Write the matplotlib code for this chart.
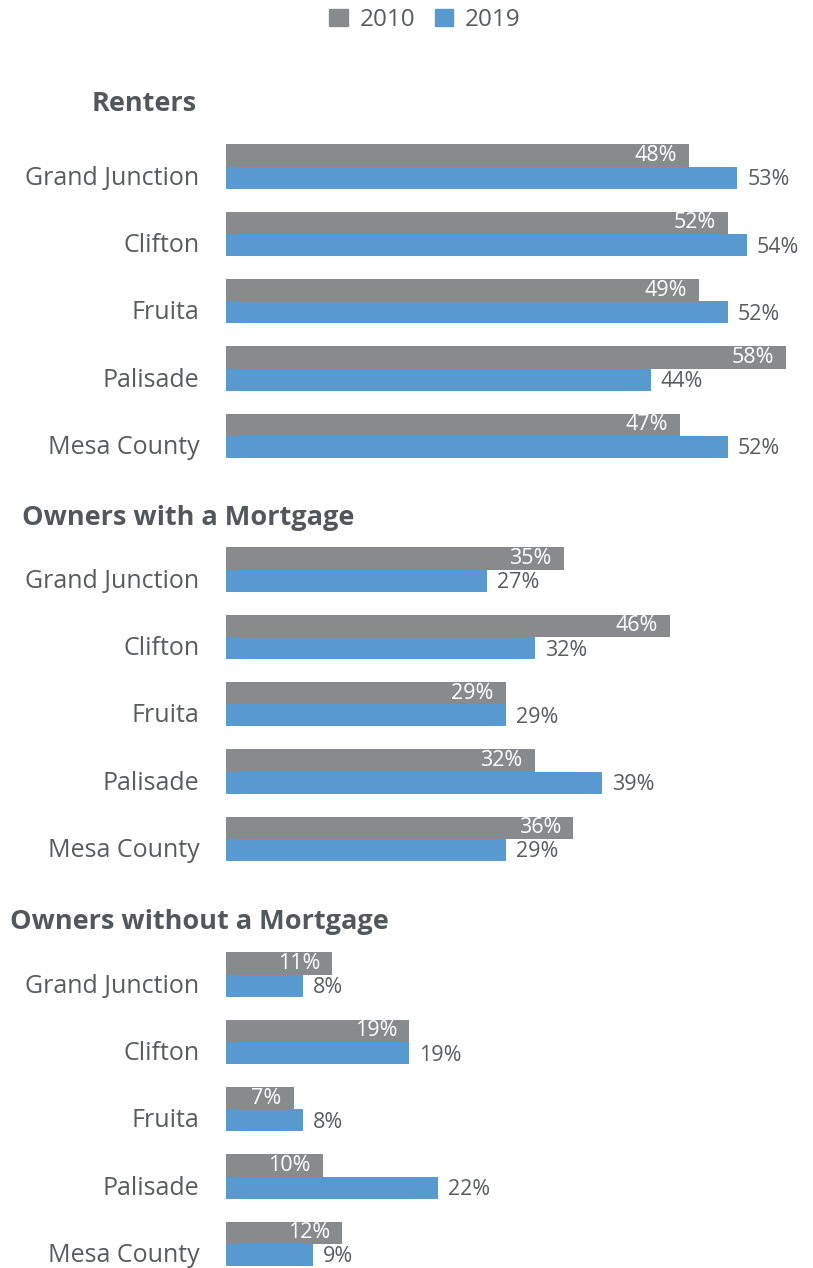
import matplotlib
matplotlib.use("Agg")
from matplotlib import pyplot as plt
from matplotlib.patches import Patch
import numpy as np

plt.rcParams['font.family'] = ['Open Sans', 'DejaVu Sans']

places = ["Grand Junction", "Clifton", "Fruita", "Palisade", "Mesa County"]
sections = ["Renters", "Owners with a Mortgage", "Owners without a Mortgage"]
vals_2010 = [
    [48, 52, 49, 58, 47],
    [35, 46, 29, 32, 36],
    [11, 19, 7, 10, 12],
]
vals_2019 = [
    [53, 54, 52, 44, 52],
    [27, 32, 29, 39, 29],
    [8, 19, 8, 22, 9],
]

GRAY = "#888a8c"
BLUE = "#5899d0"
TXT = "#595b5d"

W, H = 813, 1268
fig = plt.figure(figsize=(W / 100, H / 100), dpi=100)

# top pixel of each panel's axes, and where its title sits
panel_tops = [133, 536, 941]
titles = [(197, 104, "right"), (22, 518, "left"), (10, 922, "left")]
ax_left, px_per_unit, px_per_pct = 226, 67.3, 9.65
xmax = (W - ax_left) / px_per_pct

for k in range(3):
    top = panel_tops[k]
    h = 5 * px_per_unit
    ax = fig.add_axes([ax_left / W, 1 - (top + h) / H, (W - ax_left) / W, h / H])
    y = np.arange(len(places))
    bh = 0.33
    ax.barh(y - bh / 2, vals_2010[k], height=bh, color=GRAY)
    ax.barh(y + bh / 2, vals_2019[k], height=bh, color=BLUE)
    for i in range(len(places)):
        ax.annotate(f"{vals_2010[k][i]}%", (vals_2010[k][i], y[i] - bh / 2),
                    xytext=(-12, 0), textcoords="offset pixels",
                    ha="right", va="center", color="white", fontsize=15.5)
        ax.annotate(f"{vals_2019[k][i]}%", (vals_2019[k][i], y[i] + bh / 2),
                    xytext=(10, -2), textcoords="offset pixels",
                    ha="left", va="center", color=TXT, fontsize=15.5)
    ax.set_xlim(0, xmax)
    ax.set_ylim(4.5, -0.5)
    ax.set_yticks(y + 0.13)
    ax.set_yticklabels(places, fontsize=18, color=TXT)
    ax.tick_params(axis="y", length=0, pad=19)
    ax.set_xticks([])
    for s in ax.spines.values():
        s.set_visible(False)
    tx, ty, al = titles[k]
    fig.text(tx / W, 1 - ty / H, sections[k], ha=al, va="center",
             fontsize=19.5, fontweight="bold", color="#53575b")

handles = [Patch(color=GRAY, label="2010"), Patch(color=BLUE, label="2019")]
fig.legend(handles=handles, loc="center", bbox_to_anchor=(425 / W, 1 - 20 / H),
           ncol=2, frameon=False, fontsize=17.5, handlelength=0.75, handleheight=0.75,
           handletextpad=0.5, columnspacing=0.8, labelcolor=TXT)

fig.savefig("out.png", dpi=100)
